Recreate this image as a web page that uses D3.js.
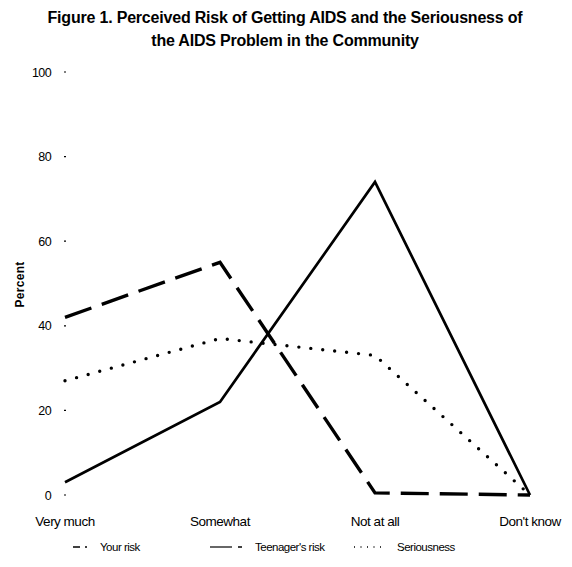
<!DOCTYPE html>
<html><head><meta charset="utf-8">
<script src="https://cdn.jsdelivr.net/npm/d3@7"></script>
<style>body{margin:0;background:#fff}svg{display:block}text{font-family:"Liberation Sans",Arial,sans-serif;fill:#000}</style>
</head><body><svg id="c" width="572" height="567"></svg>
<script>
const categories = ["Very much", "Somewhat", "Not at all", "Don't know"];
const yourRisk = [42, 55, 0.5, 0];
const teenagerRisk = [3, 22, 74, 0];
const seriousness = [27, 37, 33, 0];
const yTicks = [0, 20, 40, 60, 80, 100];
const titleLines = ["Figure 1. Perceived Risk of Getting AIDS and the Seriousness of", "the AIDS Problem in the Community"];
const legendLabels = ["Your risk", "Teenager's risk", "Seriousness"];

const svg = d3.select("#c");
const x = d3.scalePoint().domain(categories).range([65, 530]);
const y = d3.scaleLinear().domain([0, 100]).range([495, 72]);

svg.selectAll(".title").data(titleLines).join("text")
  .attr("x", 285).attr("y", (d, i) => 23 + i * 23)
  .attr("text-anchor", "middle").attr("font-weight", "bold")
  .attr("font-size", 16).attr("letter-spacing", -0.2).text(d => d);

// y axis labels
svg.selectAll(".yt").data(yTicks).join("text")
  .attr("x", 51).attr("y", d => y(d) + 4.5).attr("text-anchor", "end")
  .attr("font-size", 12.5).attr("letter-spacing", -0.6).text(d => d);
svg.selectAll(".ytick").data(yTicks).join("line")
  .attr("x1", 64).attr("x2", 66).attr("y1", d => y(d)).attr("y2", d => y(d))
  .attr("stroke", "#000").attr("stroke-width", 1.2);

svg.append("text").attr("transform", `translate(24,${y(50) + 1}) rotate(-90)`)
  .attr("text-anchor", "middle").attr("font-size", 12).attr("font-weight", "bold")
  .attr("letter-spacing", 0.3).text("Percent");

// x labels
svg.selectAll(".xl").data(categories).join("text")
  .attr("x", d => x(d)).attr("y", 526).attr("text-anchor", "middle")
  .attr("font-size", 13.5).attr("letter-spacing", -0.5).text(d => d);

const line = d3.line().x((d, i) => x(categories[i])).y(d => y(d));
const styles = [
  {data: yourRisk, width: 3.4, dash: "28,11", cap: "butt"},
  {data: teenagerRisk, width: 2.7, dash: null, cap: "butt"},
  {data: seriousness, width: 3.4, dash: "0,12", cap: "round"}
];
styles.forEach(s => {
  svg.append("path").attr("d", line(s.data)).attr("fill", "none")
    .attr("stroke", "#000").attr("stroke-width", s.width)
    .attr("stroke-dasharray", s.dash).attr("stroke-linecap", s.cap)
    .attr("stroke-linejoin", "miter");
});

// legend
const lg = svg.append("g");
const ly = 547;
lg.append("line").attr("x1", 73).attr("x2", 80).attr("y1", ly).attr("y2", ly).attr("stroke", "#000").attr("stroke-width", 1.5);
lg.append("line").attr("x1", 85).attr("x2", 87).attr("y1", ly).attr("y2", ly).attr("stroke", "#000").attr("stroke-width", 1.5);
lg.append("line").attr("x1", 210).attr("x2", 232).attr("y1", ly).attr("y2", ly).attr("stroke", "#000").attr("stroke-width", 1.2);
lg.append("line").attr("x1", 238).attr("x2", 242).attr("y1", ly).attr("y2", ly).attr("stroke", "#000").attr("stroke-width", 1.5);
lg.append("line").attr("x1", 354).attr("x2", 386).attr("y1", ly).attr("y2", ly).attr("stroke", "#000").attr("stroke-width", 1.5).attr("stroke-dasharray", "1,5.5");
const lx = [100, 255, 397];
lg.selectAll("text").data(legendLabels).join("text")
  .attr("x", (d, i) => lx[i]).attr("y", ly + 4).attr("font-size", 11.5)
  .attr("letter-spacing", -0.5).text(d => d);
</script></body></html>
